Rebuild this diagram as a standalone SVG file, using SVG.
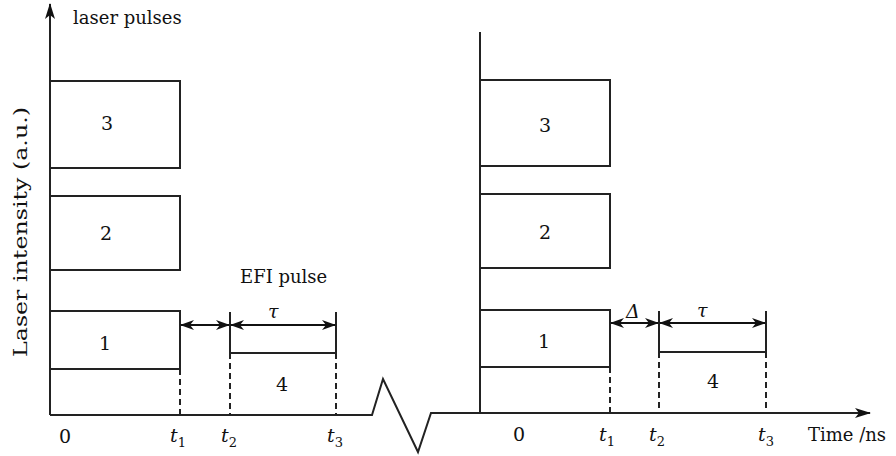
<svg xmlns="http://www.w3.org/2000/svg" width="896" height="456" viewBox="0 0 896 456">
<defs>
<marker id="ah" viewBox="0 0 14 10" refX="13" refY="5" markerWidth="14" markerHeight="10" markerUnits="userSpaceOnUse" orient="auto-start-reverse">
<path d="M0,0 L14,5 L0,10 L4,5 Z" fill="#111"/>
</marker>
<marker id="ax" viewBox="0 0 16 10" refX="15" refY="5" markerWidth="16" markerHeight="10" markerUnits="userSpaceOnUse" orient="auto">
<path d="M0,0 L16,5 L0,10 L4,5 Z" fill="#111"/>
</marker>
</defs>
<style>
.ln{stroke:#222;stroke-width:2;fill:none}
.bx{stroke:#222;stroke-width:2;fill:#fff}
.ds{stroke:#222;stroke-width:2;stroke-dasharray:6,4;fill:none}
.ar{stroke:#111;stroke-width:2;fill:none;marker-start:url(#ah);marker-end:url(#ah)}
text{font-family:"DejaVu Serif","Liberation Serif",serif;font-size:19px;fill:#111}
.it{font-style:italic}
.sub{font-size:13px;font-style:normal}
.lb{font-size:18px}
</style>
<g id="axes">
<path class="ln" d="M50,415 V4" marker-end="url(#ax)"/>
<path class="ln" d="M50,415 H372 L383,379 L418,452 L431,413 H870" marker-end="url(#ax)"/>
<path class="ln" d="M480,413 V32"/>
</g>
<g id="left-pulse-3"><rect class="bx" x="50" y="81" width="130" height="87"/><text x="101" y="130">3</text></g>
<g id="left-pulse-2"><rect class="bx" x="50" y="196" width="130" height="74"/><text x="100" y="240">2</text></g>
<g id="left-pulse-1"><rect class="bx" x="50" y="311" width="130" height="58"/><text x="99" y="350">1</text></g>
<g id="left-efi">
<path class="ln" d="M230,312 V353 H336 V312"/>
<text x="276" y="391">4</text>
</g>
<g id="right-pulse-3"><rect class="bx" x="480" y="80" width="130" height="86"/><text x="539" y="132">3</text></g>
<g id="right-pulse-2"><rect class="bx" x="480" y="194" width="130" height="74"/><text x="539" y="239">2</text></g>
<g id="right-pulse-1"><rect class="bx" x="480" y="310" width="130" height="57"/><text x="538" y="348">1</text></g>
<g id="right-efi">
<path class="ln" d="M659,311 V352 H766 V311"/>
<text x="707" y="388">4</text>
</g>
<g id="connectors">
<path class="ds" d="M180,369 V415"/>
<path class="ds" d="M230,353 V415"/>
<path class="ds" d="M336,353 V415"/>
<path class="ar" d="M181,325 H229"/>
<path class="ar" d="M231,325 H335"/>
<path class="ds" d="M610,367 V413"/>
<path class="ds" d="M659,352 V413"/>
<path class="ds" d="M766,352 V413"/>
<path class="ar" d="M611,323 H658"/>
<path class="ar" d="M660,323 H765"/>
</g>
<g id="labels">
<text class="lb" x="73" y="24">laser pulses</text>
<text transform="translate(27,232) rotate(-90)" text-anchor="middle" textLength="250" lengthAdjust="spacingAndGlyphs">Laser intensity (a.u.)</text>
<text class="lb" x="240" y="283">EFI pulse</text>
<text class="it" x="268" y="318">τ</text>
<text class="it" x="626" y="318">Δ</text>
<text class="it" x="697" y="317">τ</text>
<text x="59" y="443">0</text>
<text class="it" x="170" y="442">t<tspan class="sub" dy="5">1</tspan></text>
<text class="it" x="221" y="442">t<tspan class="sub" dy="5">2</tspan></text>
<text class="it" x="327" y="442">t<tspan class="sub" dy="5">3</tspan></text>
<text x="513" y="441">0</text>
<text class="it" x="599" y="441">t<tspan class="sub" dy="5">1</tspan></text>
<text class="it" x="649" y="441">t<tspan class="sub" dy="5">2</tspan></text>
<text class="it" x="758" y="441">t<tspan class="sub" dy="5">3</tspan></text>
<text class="lb" x="808" y="441">Time /ns</text>
</g>
</svg>
